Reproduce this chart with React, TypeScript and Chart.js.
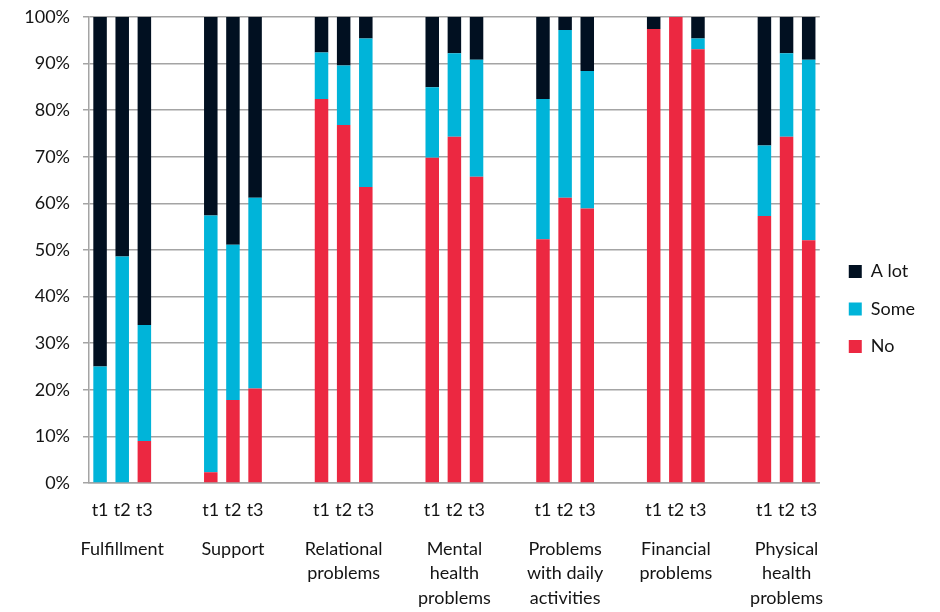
import React, { useEffect, useRef } from "react";
import { Chart, registerables } from "chart.js";

Chart.register(...registerables);

// ---- data ----
const groupNames: string[][] = [
  ["Fulfillment"],
  ["Support"],
  ["Relational", "problems"],
  ["Mental", "health", "problems"],
  ["Problems", "with daily", "activities"],
  ["Financial", "problems"],
  ["Physical", "health", "problems"],
];
const timePoints = ["t1", "t2", "t3"];

// values per group, per time point (t1, t2, t3), in %
const noValues = [
  0, 0, 9,
  2.3, 17.8, 20.3,
  82.4, 76.8, 63.5,
  69.8, 74.3, 65.7,
  52.3, 61.2, 58.9,
  97.4, 100, 93.1,
  57.3, 74.3, 52.1,
];
const someValues = [
  25, 48.6, 24.9,
  55.1, 33.3, 40.9,
  10, 12.8, 31.9,
  15.1, 17.9, 25.1,
  30.1, 36, 29.5,
  0, 0, 2.3,
  15.1, 17.9, 38.7,
];
const aLotValues = [
  75, 51.4, 66.1,
  42.6, 48.9, 38.8,
  7.6, 10.4, 4.6,
  15.1, 7.8, 9.2,
  17.6, 2.8, 11.6,
  2.6, 0, 4.6,
  27.6, 7.8, 9.2,
];
const yTicks = [0, 10, 20, 30, 40, 50, 60, 70, 80, 90, 100];
const GAP_SLOTS = 2;

// build slot layout: 3 bars per group, 2 empty slots between groups
const slotLabels: string[] = [];
const slotGroupLabels: (string | string[])[] = [];
const slotIndex: number[] = []; // -1 for gap, else data index
groupNames.forEach((g, gi) => {
  timePoints.forEach((t, ti) => {
    slotLabels.push(t);
    slotGroupLabels.push(ti === 1 ? g : "");
    slotIndex.push(gi * timePoints.length + ti);
  });
  if (gi < groupNames.length - 1) {
    for (let k = 0; k < GAP_SLOTS; k++) {
      slotLabels.push("");
      slotGroupLabels.push("");
      slotIndex.push(-1);
    }
  }
});
const toSlots = (vals: number[]) => slotIndex.map((i) => (i < 0 ? null : vals[i]));

const FONT = "Lato";
const TEXT = "#141414";
const GRID = "#a4a4a4";

export default function App() {
  const ref = useRef<HTMLCanvasElement | null>(null);

  useEffect(() => {
    if (!ref.current) return;
    const chart = new Chart(ref.current, {
      type: "bar",
      data: {
        labels: slotLabels,
        datasets: [
          { label: "No", data: toSlots(noValues), backgroundColor: "#ec2841", borderWidth: 0 },
          { label: "Some", data: toSlots(someValues), backgroundColor: "#00b4d9", borderWidth: 0 },
          { label: "A lot", data: toSlots(aLotValues), backgroundColor: "#011021", borderWidth: 0 },
        ],
      },
      options: {
        responsive: false,
        animation: false,
        events: [],
        datasets: { bar: { barPercentage: 0.61, categoryPercentage: 1 } },
        layout: { padding: { top: 0, left: 0, right: 15, bottom: 3.3 } },
        scales: {
          x: {
            type: "category",
            stacked: true,
            offset: true,
            weight: 0,
            grid: { display: false, drawTicks: false },
            border: { display: true, color: GRID, width: 1.5 },
            ticks: {
              autoSkip: false,
              maxRotation: 0,
              minRotation: 0,
              padding: 15.5,
              color: TEXT,
              font: { family: FONT, size: 18, lineHeight: 1.35 },
              callback: (_v: any, i: number) => slotLabels[i],
            },
          },
          x2: {
            type: "category",
            position: "bottom",
            offset: true,
            weight: 1,
            grid: { display: false, drawTicks: false },
            border: { display: false },
            ticks: {
              autoSkip: false,
              maxRotation: 0,
              minRotation: 0,
              padding: -1.55,
              color: TEXT,
              font: { family: FONT, size: 18, lineHeight: "24.5px" },
              callback: (_v: any, i: number) => slotGroupLabels[i],
            },
          },
          y: {
            stacked: true,
            min: 0,
            max: 100,
            afterBuildTicks: (s: any) => {
              s.ticks = yTicks.map((v) => ({ value: v }));
            },
            afterFit: (s: any) => {
              s.width = 89;
              s.paddingTop = 17;
            },
            grid: { color: GRID, lineWidth: 1.5, tickLength: 6, drawTicks: true },
            border: { display: true, color: GRID, width: 1.5 },
            ticks: {
              padding: 13,
              color: TEXT,
              font: { family: FONT, size: 18 },
              callback: (v: any) => v + "%",
            },
          },
        },
        plugins: {
          tooltip: { enabled: false },
          title: { display: false },
          legend: {
            position: "right",
            align: "center",
            reverse: true,
            labels: {
              boxWidth: 13,
              boxHeight: 13,
              padding: 29,
              color: TEXT,
              font: { family: FONT, size: 18, lineHeight: "8.5px" },
              generateLabels: (c: any) =>
                Chart.defaults.plugins.legend.labels
                  .generateLabels(c)
                  .map((l: any) => ({ ...l, text: [l.text], lineWidth: 0 })),
            },
          },
        },
      } as any,
    });
    return () => chart.destroy();
  }, []);

  return (
    <div style={{ position: "fixed", left: 0, top: 0, width: 940, height: 612, background: "#fff" }}>
      <canvas ref={ref} width={940} height={612} style={{ display: "block" }} />
    </div>
  );
}
